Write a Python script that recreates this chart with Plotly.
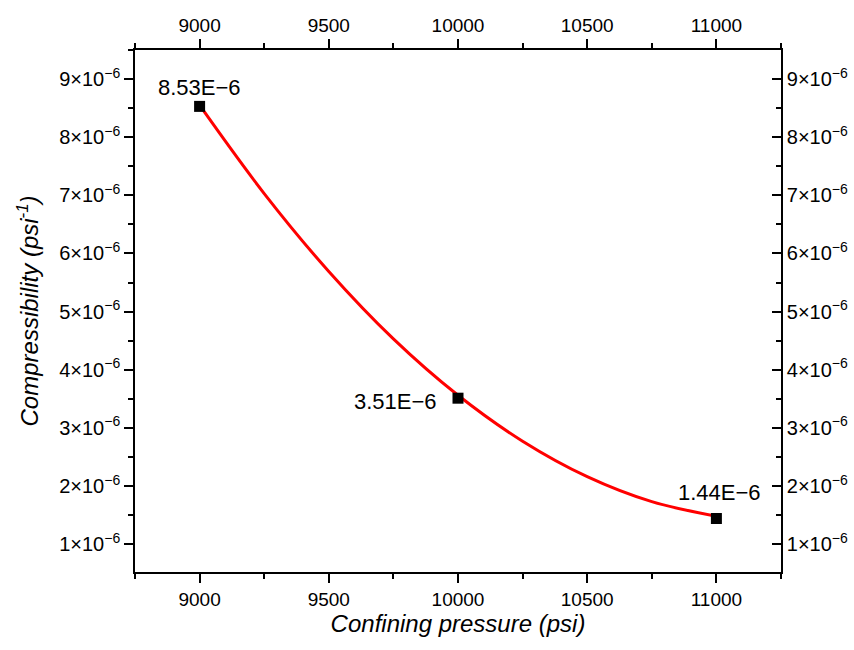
import plotly.graph_objects as go

# Measured compressibility at each confining pressure
pressure = [9000, 10000, 11000]
compressibility = [8.53e-6, 3.51e-6, 1.44e-6]
point_labels = ["8.53E−6", "3.51E−6", "1.44E−6"]

# Fitted trend curve
fit_pressure = [9000, 9250, 9500, 9750, 10000, 10250, 10500, 10750, 11000]
fit_compressibility = [8.55e-6, 7.03e-6, 5.69e-6, 4.53e-6, 3.56e-6, 2.77e-6, 2.16e-6, 1.73e-6, 1.48e-6]

x_ticks = [9000, 9500, 10000, 10500, 11000]
x_tick_text = ["9000", "9500", "10000", "10500", "11000"]
x_minor = [8750, 9250, 9750, 10250, 10750, 11250]
y_mantissas = [1, 2, 3, 4, 5, 6, 7, 8, 9]
y_ticks = [m * 1e-6 for m in y_mantissas]
y_tick_text = [f"{m}×10<sup>−6</sup>" for m in y_mantissas]
y_minor = [(m + 0.5) * 1e-6 for m in range(0, 10)]

FONT = "Arial, Liberation Sans, sans-serif"
x_range = [8750, 11250]
y_range = [0.52e-6, 9.5e-6]

fig = go.Figure()

fig.add_trace(go.Scatter(
    x=fit_pressure, y=fit_compressibility, mode="lines",
    line=dict(color="#ff0000", width=3, shape="spline", smoothing=1.0),
    hoverinfo="skip", showlegend=False,
))

fig.add_trace(go.Scatter(
    x=pressure, y=compressibility, mode="markers",
    marker=dict(symbol="square", size=11, color="black"),
    showlegend=False,
))

# Invisible trace carrying the top and right axes
fig.add_trace(go.Scatter(
    x=pressure, y=compressibility, xaxis="x2", yaxis="y2", mode="markers",
    marker=dict(opacity=0), hoverinfo="skip", showlegend=False,
))

# Value labels beside each measured point
label_style = [
    dict(xanchor="center", yanchor="middle", xshift=0, yshift=19),
    dict(xanchor="right", yanchor="middle", xshift=-19, yshift=-3),
    dict(xanchor="center", yanchor="middle", xshift=3, yshift=26),
]
for px, cy, txt, st in zip(pressure, compressibility, point_labels, label_style):
    fig.add_annotation(
        x=px, y=cy, text=txt, showarrow=False,
        font=dict(family=FONT, size=22, color="black"), **st,
    )

axis_common = dict(
    showline=True, linecolor="black", linewidth=1.6, showgrid=False,
    zeroline=False, tickcolor="black", tickwidth=1.6, automargin=False,
)
x_font = dict(family=FONT, size=19, color="black")
y_font = dict(family=FONT, size=20, color="black")
minor_out = dict(ticks="outside", ticklen=5, tickcolor="black", tickwidth=1.6)
minor_in = dict(ticks="inside", ticklen=5, tickcolor="black", tickwidth=1.6)

fig.update_layout(
    width=854, height=650,
    margin=dict(l=135, r=73, t=50, b=78),
    plot_bgcolor="white", paper_bgcolor="white",
    xaxis=dict(
        range=x_range, tickmode="array", tickvals=x_ticks, ticktext=x_tick_text,
        ticks="outside", ticklen=9, tickfont=x_font,
        minor=dict(tickmode="array", tickvals=x_minor, **minor_out),
        title=dict(text="<i>Confining pressure (psi)</i>",
                   font=dict(family=FONT, size=24, color="black"), standoff=7),
        **axis_common,
    ),
    xaxis2=dict(
        range=x_range, overlaying="x", side="top", anchor="y", matches="x",
        tickmode="array", tickvals=x_ticks, ticktext=x_tick_text,
        ticks="outside", ticklen=9, tickfont=x_font,
        minor=dict(tickmode="array", tickvals=x_minor, **minor_out),
        **axis_common,
    ),
    yaxis=dict(
        range=y_range, tickmode="array", tickvals=y_ticks, ticktext=y_tick_text,
        ticks="outside", ticklen=9, tickfont=y_font,
        minor=dict(tickmode="array", tickvals=y_minor, **minor_out),
        title=dict(text="<i>Compressibility (psi<sup>-1</sup>)</i>",
                   font=dict(family=FONT, size=24, color="black"), standoff=14),
        **axis_common,
    ),
    yaxis2=dict(
        range=y_range, overlaying="y", side="right", anchor="x", matches="y",
        tickmode="array", tickvals=y_ticks, ticktext=y_tick_text,
        ticks="inside", ticklen=9, tickfont=y_font,
        minor=dict(tickmode="array", tickvals=y_minor, **minor_in),
        **axis_common,
    ),
)

fig.write_html("out.html")
